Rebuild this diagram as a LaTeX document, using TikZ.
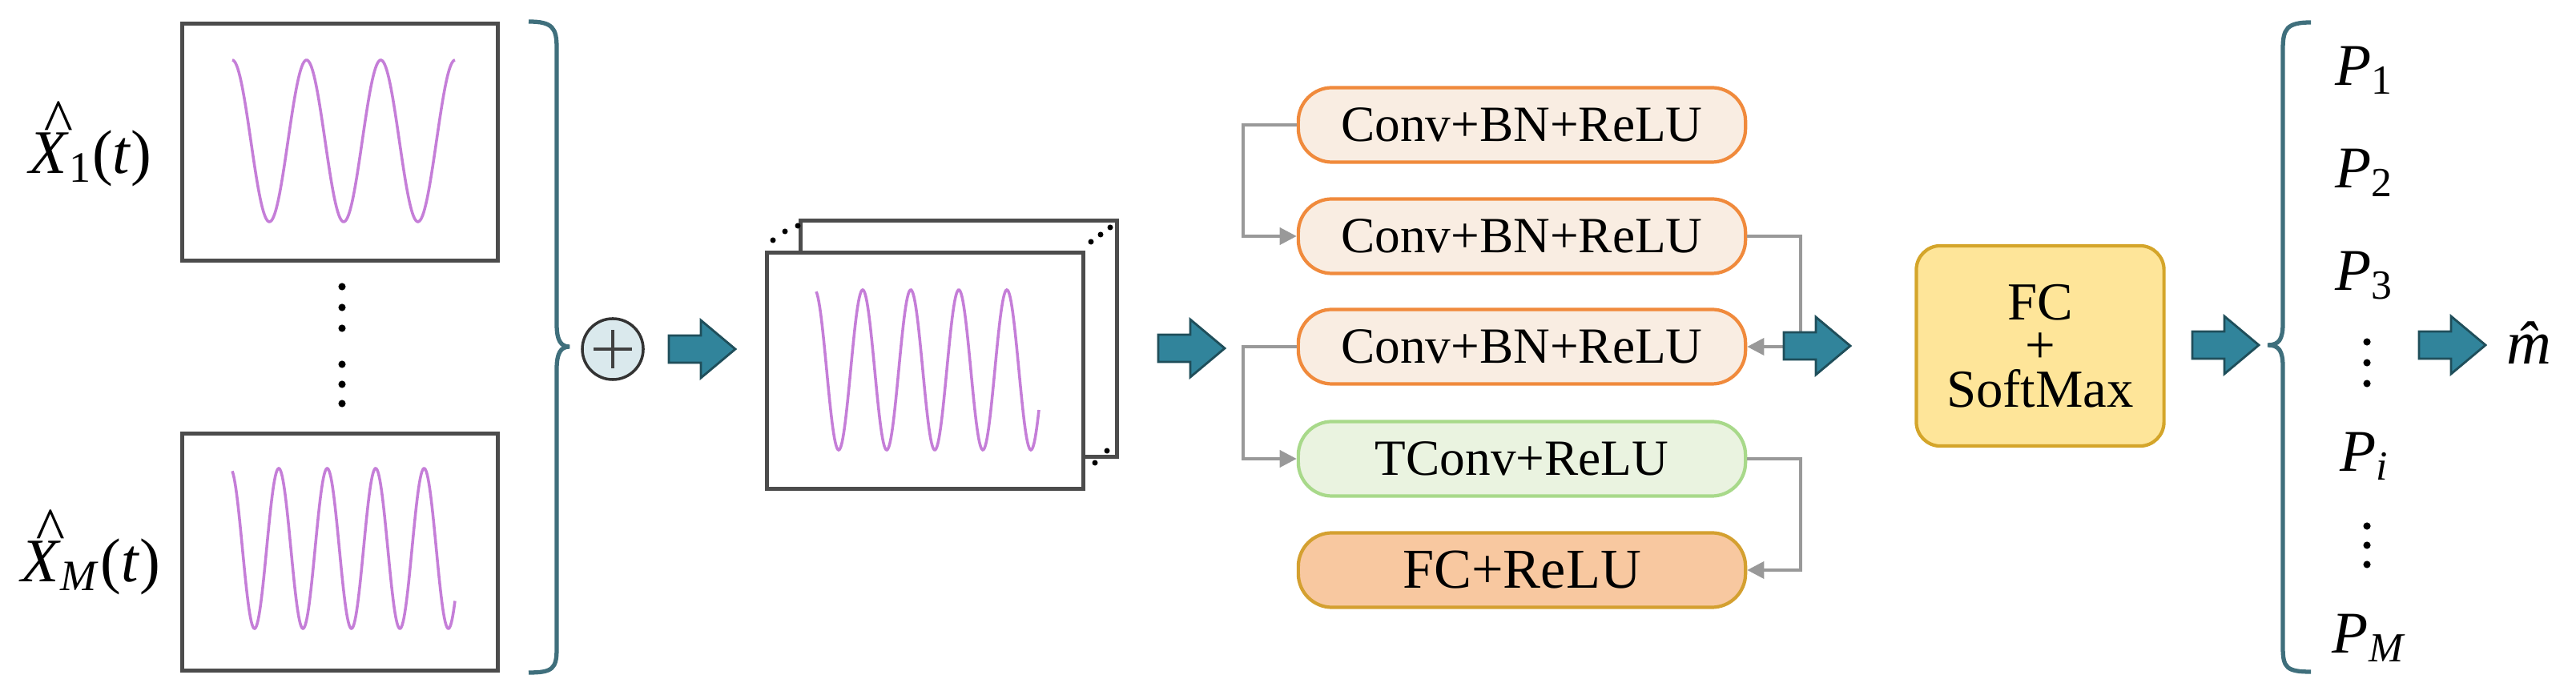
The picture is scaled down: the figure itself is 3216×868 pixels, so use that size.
\documentclass[tikz,border=0pt]{standalone}
\usepackage{fontspec}
\setmainfont{Liberation Serif}
\usetikzlibrary{arrows.meta}
\definecolor{teal1}{HTML}{31849B}
\definecolor{tealdk}{HTML}{1F4E5A}
\definecolor{bracec}{HTML}{3F6F7C}
\definecolor{wave}{HTML}{C57ED8}
\definecolor{convfill}{HTML}{F9EDE2}
\definecolor{convdraw}{HTML}{F08A3C}
\definecolor{tfill}{HTML}{EAF3E0}
\definecolor{tdraw}{HTML}{A8D98A}
\definecolor{fcfill}{HTML}{F8C8A0}
\definecolor{fcdraw}{HTML}{D4A030}
\definecolor{smfill}{HTML}{FEE599}
\definecolor{smdraw}{HTML}{D4A52A}
\newcommand{\hatX}{\textit{\makebox[0pt][l]{\hspace{0.22em}\raisebox{0.5em}{\^{}}}X}}
\begin{document}
\begin{tikzpicture}[x=0.01cm,y=-0.01cm,
  frame/.style={draw=black!70,line width=1.3pt,fill=white},
  wv/.style={draw=wave,line width=1pt},
  blk/.style={rounded corners=0.42cm,minimum width=5.58cm,minimum height=0.93cm,line width=1.2pt,inner sep=0pt,font=\fontsize{18}{20}\selectfont},
  conv/.style={blk,fill=convfill,draw=convdraw},
  conn/.style={draw=black!40,line width=1.1pt,-{Triangle[length=6pt,width=6pt]}},
  bar/.style={draw=bracec,line width=1.5pt},
  lbl/.style={font=\fontsize{22}{24}\selectfont,inner sep=0pt},
  plbl/.style={font=\fontsize{21}{24}\selectfont,inner sep=0pt},
  dot/.style={fill=black,circle,inner sep=0pt,minimum size=2.6pt},
  bigarrow/.pic={\draw[fill=teal1,draw=tealdk,line width=0.8pt] (0,-17)--(40,-17)--(40,-36)--(83,0)--(40,36)--(40,17)--(0,17)--cycle;}
]
\useasboundingbox (0,0) rectangle (3216,868);
% input frames
\node[frame,minimum width=3.94cm,minimum height=2.96cm,anchor=north west,inner sep=0pt] (f1) at (225,27) {};
\node[frame,minimum width=3.94cm,minimum height=2.96cm,anchor=north west,inner sep=0pt] (fM) at (225,539) {};
\draw[wv] plot[domain=290:568,samples=200] (\x,{176-101*cos(3.8835*(\x-290))});
\draw[wv] plot[domain=290:568,samples=250] (\x,{685-100*cos(5.9504*(\x-348))});
\node[lbl] (x1) at (113,180) {\hatX\textsubscript{1}(\textit{t})};
\node[lbl] (xM) at (113,690) {\hatX\textsubscript{\textit{M}}(\textit{t})};
\foreach \y in {358,384,410,455,480,504} \node[dot] at (427,\y) {};
% left brace
\draw[bar] (660,27) .. controls (690,27) and (695,35) .. (695,60) -- (695,405) .. controls (695,425) and (700,433) .. (711,433) .. controls (700,433) and (695,441) .. (695,461) -- (695,810) .. controls (695,835) and (690,840) .. (660,840);
% oplus
\node[circle,draw=black!80,fill=teal1!18,line width=1pt,minimum size=0.76cm,inner sep=0pt] (op) at (765,436) {};
\draw[black!75,line width=1pt] (op.center)+(-24,0) -- +(24,0) (op.center)+(0,-24) -- +(0,24);
\pic at (835,436) {bigarrow};
% stacked frames
\node[frame,minimum width=3.95cm,minimum height=2.95cm,anchor=north west,inner sep=0pt] (bk) at (997,273) {};
\node[frame,minimum width=3.95cm,minimum height=2.95cm,anchor=north west,inner sep=0pt] (fr) at (955,313) {};
\draw[wv] plot[domain=1019:1297,samples=250] (\x,{462-100*cos(6*(\x-1077))});
\foreach \p in {(965,300),(980,289),(996,282),(1362,302),(1374,293),(1386,284),(1367,578),(1382,563)} \node[dot,minimum size=2pt] at \p {};
\pic at (1446,435) {bigarrow};
% blocks
\node[conv] (b1) at (1900,156) {Conv+BN+ReLU};
\node[conv] (b2) at (1900,295) {Conv+BN+ReLU};
\node[conv] (b3) at (1900,433) {Conv+BN+ReLU};
\node[blk,fill=tfill,draw=tdraw] (b4) at (1900,573) {TConv+ReLU};
\node[blk,fill=fcfill,draw=fcdraw,font=\fontsize{20}{22}\selectfont] (b5) at (1900,712) {FC+ReLU};
\draw[conn] (b1.west) -- ++(-67,0) |- (b2.west);
\draw[conn] (b2.east) -- ++(67,0) |- (b3.east);
\draw[conn] (b3.west) -- ++(-67,0) |- (b4.west);
\draw[conn] (b4.east) -- ++(67,0) |- (b5.east);
\pic at (2227,432) {bigarrow};
\node[rounded corners=0.3cm,fill=smfill,draw=smdraw,line width=1.2pt,minimum width=3.09cm,minimum height=2.5cm,align=center,font=\fontsize{19}{15.5}\selectfont,inner sep=0pt] (sm) at (2547,432) {FC\\+\\SoftMax};
\pic at (2737,431) {bigarrow};
% right brace
\draw[bar] (2885,28) .. controls (2855,28) and (2850,36) .. (2850,61) -- (2850,404) .. controls (2850,424) and (2845,431) .. (2831,431) .. controls (2845,431) and (2850,438) .. (2850,458) -- (2850,809) .. controls (2850,834) and (2855,839) .. (2885,839);
\node[plbl] (p1) at (2952,88) {\textit{P}\textsubscript{1}};
\node[plbl] (p2) at (2952,216) {\textit{P}\textsubscript{2}};
\node[plbl] (p3) at (2952,344) {\textit{P}\textsubscript{3}};
\node[plbl] (pi) at (2952,570) {\textit{P}\textsubscript{\textit{i}}};
\node[plbl] (pM) at (2958,797) {\textit{P}\textsubscript{\textit{M}}};
\foreach \y in {427,453,479,657,681,705} \node[dot] at (2955,\y) {};
\pic at (3020,431) {bigarrow};
\node[lbl] (mh) at (3172,428) {\textit{\^m}};
\end{tikzpicture}
\end{document}
